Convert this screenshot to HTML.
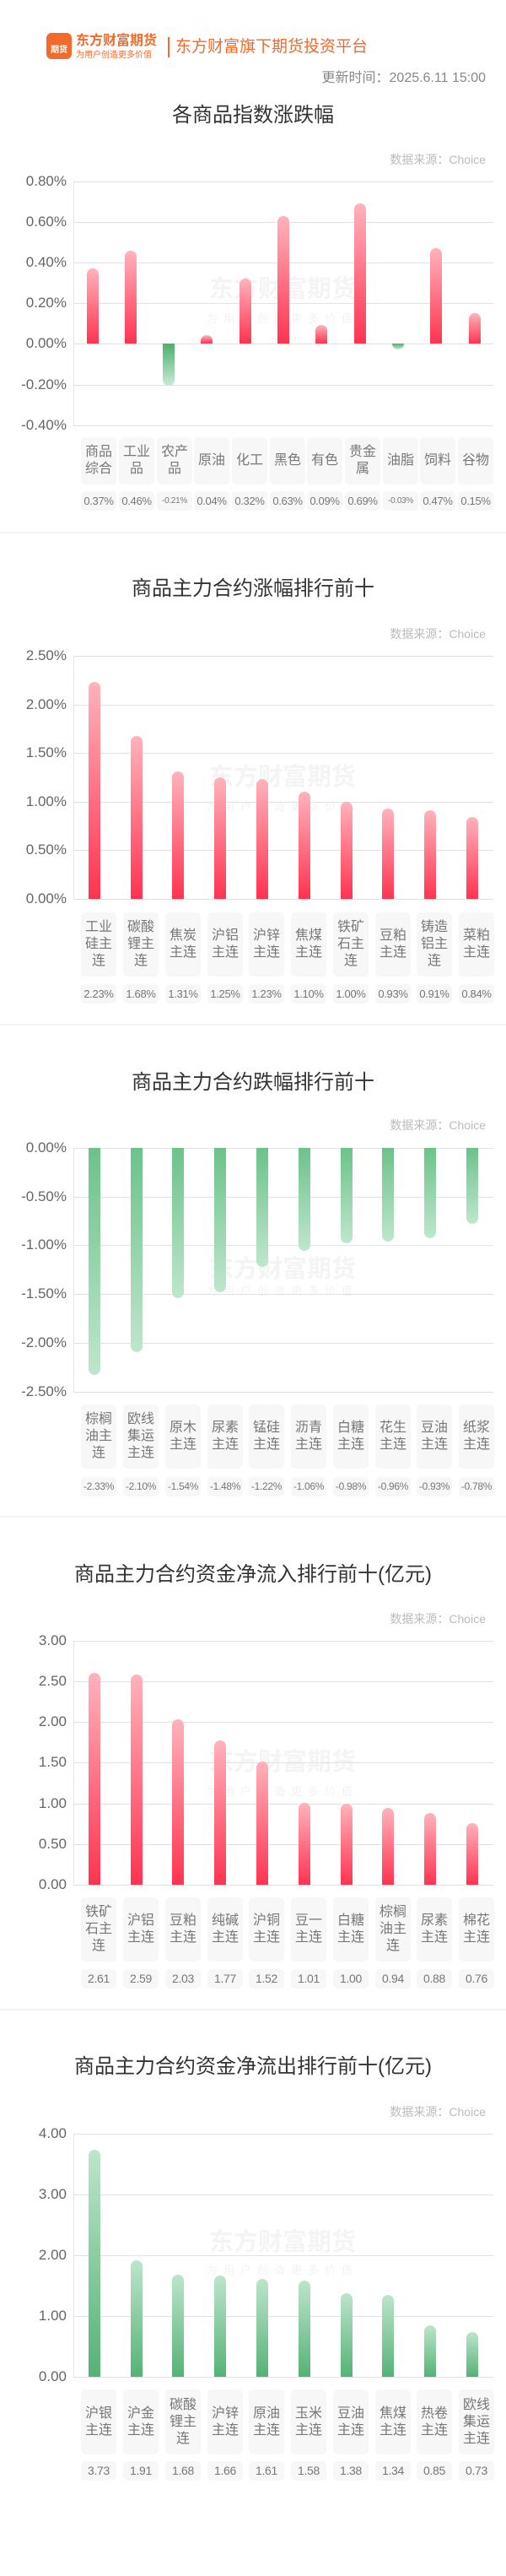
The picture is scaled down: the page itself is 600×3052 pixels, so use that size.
<!DOCTYPE html>
<html><head><meta charset="utf-8">
<style>
*{margin:0;padding:0;box-sizing:border-box}
body{width:600px;height:3052px;background:#fff;position:relative;overflow:hidden;font-family:"Liberation Sans","Noto Sans CJK SC",sans-serif}
.a{position:absolute}
.t{position:absolute;left:0;width:600px;text-align:center;font-size:24px;color:#333;line-height:30px}
.src{position:absolute;right:24px;font-size:14px;color:#bbb;line-height:18px}
.g{position:absolute;left:87px;width:498px;height:1px;background:#e2e2e2}
.vl{position:absolute;left:87px;width:1px;background:#e6e6e6}
.yl{position:absolute;right:521px;font-size:17px;color:#666;line-height:20px;text-align:right;white-space:nowrap}
.lb{position:absolute;width:42px;background:#f7f7f7;border-radius:5px;display:flex;align-items:center;justify-content:center;text-align:center;font-size:16px;line-height:20px;color:#777;padding:0 4px;word-break:break-all}
.vb{position:absolute;width:42px;height:23px;background:#f7f7f7;border-radius:5px;text-align:center;font-size:13px;line-height:23px;color:#777;white-space:nowrap;letter-spacing:-0.3px}
.r{position:absolute;width:14px;border-radius:7px 7px 0 0;background:linear-gradient(to bottom,#ffb3bc,#ff3350)}
.n{position:absolute;width:14px;border-radius:0 0 7px 7px;background:linear-gradient(to bottom,#4caf6e,#c8ebd4)}
.n3{position:absolute;width:14px;border-radius:0 0 7px 7px;background:linear-gradient(to bottom,#6cc28a,#bfe6cc)}
.p5{position:absolute;width:14px;border-radius:7px 7px 0 0;background:linear-gradient(to bottom,#bde5cb,#55b276)}
.dv{position:absolute;left:0;width:600px;height:2px;background:#f3f3f3}
.wm{position:absolute;left:245px;width:180px;text-align:center;font-size:29px;font-weight:bold;color:#f4f4f4;line-height:32px;white-space:nowrap}
.ws{position:absolute;left:245px;width:180px;text-align:center;font-size:13px;color:#f2f2f2;letter-spacing:7px;line-height:16px;white-space:nowrap}
</style></head><body>

<!-- header -->
<div class="a" style="left:55px;top:39px;width:30px;height:31px;background:#f26a2c;border-radius:6px;color:#fff;font-size:10px;font-weight:bold;text-align:center;line-height:12px;padding-top:15px">期货</div>
<div class="a" style="left:90px;top:40px;font-size:16px;font-weight:bold;color:#f26a2c;line-height:18px;white-space:nowrap">东方财富期货</div>
<div class="a" style="left:90px;top:60px;font-size:10px;color:#f26a2c;line-height:11px;white-space:nowrap">为用户创造更多价值</div>
<div class="a" style="left:199px;top:44px;width:2px;height:24px;background:#f26a2c"></div>
<div class="a" style="left:208px;top:45px;font-size:19px;color:#f26a2c;line-height:22px;white-space:nowrap">东方财富旗下期货投资平台</div>
<div class="a" style="right:24px;top:83px;font-size:16px;color:#888;line-height:20px;white-space:nowrap">更新时间：2025.6.11 15:00</div>

<!-- chart 1 -->
<div class="t" style="top:122px">各商品指数涨跌幅</div>
<div class="src" style="top:180px">数据来源：Choice</div>
<div class="wm" style="top:327px">东方财富期货</div><div class="ws" style="top:370px">为用户创造更多价值</div>
<div class="vl" style="top:215px;height:290px"></div>
<div class="g" style="top:215px"></div><div class="g" style="top:263px"></div><div class="g" style="top:311px"></div><div class="g" style="top:359px"></div><div class="g" style="top:407px"></div><div class="g" style="top:456px"></div><div class="g" style="top:504px"></div>
<div class="yl" style="top:205px">0.80%</div><div class="yl" style="top:253px">0.60%</div><div class="yl" style="top:301px">0.40%</div><div class="yl" style="top:349px">0.20%</div><div class="yl" style="top:397px">0.00%</div><div class="yl" style="top:446px">-0.20%</div><div class="yl" style="top:494px">-0.40%</div>
<div class="r" style="left:103px;top:318px;height:89px"></div>
<div class="r" style="left:148px;top:297px;height:110px"></div>
<div class="n" style="left:193px;top:407px;height:50px"></div>
<div class="r" style="left:238px;top:397px;height:10px"></div>
<div class="r" style="left:284px;top:330px;height:77px"></div>
<div class="r" style="left:329px;top:256px;height:151px"></div>
<div class="r" style="left:374px;top:385px;height:22px"></div>
<div class="r" style="left:420px;top:241px;height:166px"></div>
<div class="n" style="left:465px;top:407px;height:7px"></div>
<div class="r" style="left:510px;top:294px;height:113px"></div>
<div class="r" style="left:556px;top:371px;height:36px"></div>
<div class="lb" style="left:96px;top:518px;height:56px">商品综合</div>
<div class="lb" style="left:141px;top:518px;height:56px">工业品</div>
<div class="lb" style="left:186px;top:518px;height:56px">农产品</div>
<div class="lb" style="left:230px;top:518px;height:56px">原油</div>
<div class="lb" style="left:275px;top:518px;height:56px">化工</div>
<div class="lb" style="left:320px;top:518px;height:56px">黑色</div>
<div class="lb" style="left:364px;top:518px;height:56px">有色</div>
<div class="lb" style="left:409px;top:518px;height:56px">贵金属</div>
<div class="lb" style="left:454px;top:518px;height:56px">油脂</div>
<div class="lb" style="left:498px;top:518px;height:56px">饲料</div>
<div class="lb" style="left:543px;top:518px;height:56px">谷物</div>
<div class="vb" style="left:96px;top:582px">0.37%</div>
<div class="vb" style="left:141px;top:582px">0.46%</div>
<div class="vb" style="left:186px;top:582px;font-size:10px">-0.21%</div>
<div class="vb" style="left:230px;top:582px">0.04%</div>
<div class="vb" style="left:275px;top:582px">0.32%</div>
<div class="vb" style="left:320px;top:582px">0.63%</div>
<div class="vb" style="left:364px;top:582px">0.09%</div>
<div class="vb" style="left:409px;top:582px">0.69%</div>
<div class="vb" style="left:454px;top:582px;font-size:10px">-0.03%</div>
<div class="vb" style="left:498px;top:582px">0.47%</div>
<div class="vb" style="left:543px;top:582px">0.15%</div>
<div class="dv" style="top:630px"></div>

<!-- chart 2 -->
<div class="t" style="top:683px">商品主力合约涨幅排行前十</div>
<div class="src" style="top:742px">数据来源：Choice</div>
<div class="wm" style="top:905px">东方财富期货</div><div class="ws" style="top:948px">为用户创造更多价值</div>
<div class="vl" style="top:777px;height:288px"></div>
<div class="g" style="top:777px"></div><div class="g" style="top:835px"></div><div class="g" style="top:892px"></div><div class="g" style="top:950px"></div><div class="g" style="top:1007px"></div><div class="g" style="top:1065px"></div>
<div class="yl" style="top:767px">2.50%</div><div class="yl" style="top:825px">2.00%</div><div class="yl" style="top:882px">1.50%</div><div class="yl" style="top:940px">1.00%</div><div class="yl" style="top:997px">0.50%</div><div class="yl" style="top:1055px">0.00%</div>
<div class="r" style="left:105px;top:808px;height:257px"></div>
<div class="r" style="left:155px;top:872px;height:193px"></div>
<div class="r" style="left:204px;top:914px;height:151px"></div>
<div class="r" style="left:254px;top:921px;height:144px"></div>
<div class="r" style="left:304px;top:923px;height:142px"></div>
<div class="r" style="left:354px;top:938px;height:127px"></div>
<div class="r" style="left:404px;top:950px;height:115px"></div>
<div class="r" style="left:453px;top:958px;height:107px"></div>
<div class="r" style="left:503px;top:960px;height:105px"></div>
<div class="r" style="left:553px;top:968px;height:97px"></div>
<div class="lb" style="left:96px;top:1081px;height:76px">工业硅主连</div>
<div class="lb" style="left:146px;top:1081px;height:76px">碳酸锂主连</div>
<div class="lb" style="left:196px;top:1081px;height:76px">焦炭主连</div>
<div class="lb" style="left:246px;top:1081px;height:76px">沪铝主连</div>
<div class="lb" style="left:295px;top:1081px;height:76px">沪锌主连</div>
<div class="lb" style="left:345px;top:1081px;height:76px">焦煤主连</div>
<div class="lb" style="left:395px;top:1081px;height:76px">铁矿石主连</div>
<div class="lb" style="left:445px;top:1081px;height:76px">豆粕主连</div>
<div class="lb" style="left:494px;top:1081px;height:76px">铸造铝主连</div>
<div class="lb" style="left:544px;top:1081px;height:76px">菜粕主连</div>
<div class="vb" style="left:96px;top:1166px">2.23%</div>
<div class="vb" style="left:146px;top:1166px">1.68%</div>
<div class="vb" style="left:196px;top:1166px">1.31%</div>
<div class="vb" style="left:246px;top:1166px">1.25%</div>
<div class="vb" style="left:295px;top:1166px">1.23%</div>
<div class="vb" style="left:345px;top:1166px">1.10%</div>
<div class="vb" style="left:395px;top:1166px">1.00%</div>
<div class="vb" style="left:445px;top:1166px">0.93%</div>
<div class="vb" style="left:494px;top:1166px">0.91%</div>
<div class="vb" style="left:544px;top:1166px">0.84%</div>
<div class="dv" style="top:1213px"></div>

<!-- chart 3 -->
<div class="t" style="top:1268px">商品主力合约跌幅排行前十</div>
<div class="src" style="top:1324px">数据来源：Choice</div>
<div class="wm" style="top:1488px">东方财富期货</div><div class="ws" style="top:1522px">为用户创造更多价值</div>
<div class="vl" style="top:1360px;height:289px"></div>
<div class="g" style="top:1360px"></div><div class="g" style="top:1418px"></div><div class="g" style="top:1475px"></div><div class="g" style="top:1533px"></div><div class="g" style="top:1591px"></div><div class="g" style="top:1649px"></div>
<div class="yl" style="top:1350px">0.00%</div><div class="yl" style="top:1408px">-0.50%</div><div class="yl" style="top:1465px">-1.00%</div><div class="yl" style="top:1523px">-1.50%</div><div class="yl" style="top:1581px">-2.00%</div><div class="yl" style="top:1639px">-2.50%</div>
<div class="n3" style="left:105px;top:1360px;height:269px"></div>
<div class="n3" style="left:155px;top:1360px;height:242px"></div>
<div class="n3" style="left:204px;top:1360px;height:178px"></div>
<div class="n3" style="left:254px;top:1360px;height:171px"></div>
<div class="n3" style="left:304px;top:1360px;height:141px"></div>
<div class="n3" style="left:354px;top:1360px;height:122px"></div>
<div class="n3" style="left:404px;top:1360px;height:113px"></div>
<div class="n3" style="left:453px;top:1360px;height:111px"></div>
<div class="n3" style="left:503px;top:1360px;height:107px"></div>
<div class="n3" style="left:553px;top:1360px;height:90px"></div>
<div class="lb" style="left:96px;top:1664px;height:76px">棕榈油主连</div>
<div class="lb" style="left:146px;top:1664px;height:76px">欧线集运主连</div>
<div class="lb" style="left:196px;top:1664px;height:76px">原木主连</div>
<div class="lb" style="left:246px;top:1664px;height:76px">尿素主连</div>
<div class="lb" style="left:295px;top:1664px;height:76px">锰硅主连</div>
<div class="lb" style="left:345px;top:1664px;height:76px">沥青主连</div>
<div class="lb" style="left:395px;top:1664px;height:76px">白糖主连</div>
<div class="lb" style="left:445px;top:1664px;height:76px">花生主连</div>
<div class="lb" style="left:494px;top:1664px;height:76px">豆油主连</div>
<div class="lb" style="left:544px;top:1664px;height:76px">纸浆主连</div>
<div class="vb" style="left:96px;top:1750px;font-size:12px">-2.33%</div>
<div class="vb" style="left:146px;top:1750px;font-size:12px">-2.10%</div>
<div class="vb" style="left:196px;top:1750px;font-size:12px">-1.54%</div>
<div class="vb" style="left:246px;top:1750px;font-size:12px">-1.48%</div>
<div class="vb" style="left:295px;top:1750px;font-size:12px">-1.22%</div>
<div class="vb" style="left:345px;top:1750px;font-size:12px">-1.06%</div>
<div class="vb" style="left:395px;top:1750px;font-size:12px">-0.98%</div>
<div class="vb" style="left:445px;top:1750px;font-size:12px">-0.96%</div>
<div class="vb" style="left:494px;top:1750px;font-size:12px">-0.93%</div>
<div class="vb" style="left:544px;top:1750px;font-size:12px">-0.78%</div>
<div class="dv" style="top:1796px"></div>

<!-- chart 4 -->
<div class="t" style="top:1851px">商品主力合约资金净流入排行前十(亿元)</div>
<div class="src" style="top:1909px">数据来源：Choice</div>
<div class="wm" style="top:2072px">东方财富期货</div><div class="ws" style="top:2115px">为用户创造更多价值</div>
<div class="vl" style="top:1944px;height:289px"></div>
<div class="g" style="top:1944px"></div><div class="g" style="top:1992px"></div><div class="g" style="top:2040px"></div><div class="g" style="top:2088px"></div><div class="g" style="top:2137px"></div><div class="g" style="top:2185px"></div><div class="g" style="top:2233px"></div>
<div class="yl" style="top:1934px">3.00</div><div class="yl" style="top:1982px">2.50</div><div class="yl" style="top:2030px">2.00</div><div class="yl" style="top:2078px">1.50</div><div class="yl" style="top:2127px">1.00</div><div class="yl" style="top:2175px">0.50</div><div class="yl" style="top:2223px">0.00</div>
<div class="r" style="left:105px;top:1982px;height:251px"></div>
<div class="r" style="left:155px;top:1984px;height:249px"></div>
<div class="r" style="left:204px;top:2037px;height:196px"></div>
<div class="r" style="left:254px;top:2062px;height:171px"></div>
<div class="r" style="left:304px;top:2087px;height:146px"></div>
<div class="r" style="left:354px;top:2136px;height:97px"></div>
<div class="r" style="left:404px;top:2137px;height:96px"></div>
<div class="r" style="left:453px;top:2142px;height:91px"></div>
<div class="r" style="left:503px;top:2148px;height:85px"></div>
<div class="r" style="left:553px;top:2160px;height:73px"></div>
<div class="lb" style="left:96px;top:2248px;height:76px">铁矿石主连</div>
<div class="lb" style="left:146px;top:2248px;height:76px">沪铝主连</div>
<div class="lb" style="left:196px;top:2248px;height:76px">豆粕主连</div>
<div class="lb" style="left:246px;top:2248px;height:76px">纯碱主连</div>
<div class="lb" style="left:295px;top:2248px;height:76px">沪铜主连</div>
<div class="lb" style="left:345px;top:2248px;height:76px">豆一主连</div>
<div class="lb" style="left:395px;top:2248px;height:76px">白糖主连</div>
<div class="lb" style="left:445px;top:2248px;height:76px">棕榈油主连</div>
<div class="lb" style="left:494px;top:2248px;height:76px">尿素主连</div>
<div class="lb" style="left:544px;top:2248px;height:76px">棉花主连</div>
<div class="vb" style="left:96px;top:2333px;font-size:14px">2.61</div>
<div class="vb" style="left:146px;top:2333px;font-size:14px">2.59</div>
<div class="vb" style="left:196px;top:2333px;font-size:14px">2.03</div>
<div class="vb" style="left:246px;top:2333px;font-size:14px">1.77</div>
<div class="vb" style="left:295px;top:2333px;font-size:14px">1.52</div>
<div class="vb" style="left:345px;top:2333px;font-size:14px">1.01</div>
<div class="vb" style="left:395px;top:2333px;font-size:14px">1.00</div>
<div class="vb" style="left:445px;top:2333px;font-size:14px">0.94</div>
<div class="vb" style="left:494px;top:2333px;font-size:14px">0.88</div>
<div class="vb" style="left:544px;top:2333px;font-size:14px">0.76</div>
<div class="dv" style="top:2380px"></div>

<!-- chart 5 -->
<div class="t" style="top:2434px">商品主力合约资金净流出排行前十(亿元)</div>
<div class="src" style="top:2493px">数据来源：Choice</div>
<div class="wm" style="top:2641px">东方财富期货</div><div class="ws" style="top:2682px">为用户创造更多价值</div>
<div class="vl" style="top:2528px;height:288px"></div>
<div class="g" style="top:2528px"></div><div class="g" style="top:2600px"></div><div class="g" style="top:2672px"></div><div class="g" style="top:2744px"></div><div class="g" style="top:2816px"></div>
<div class="yl" style="top:2518px">4.00</div><div class="yl" style="top:2590px">3.00</div><div class="yl" style="top:2662px">2.00</div><div class="yl" style="top:2734px">1.00</div><div class="yl" style="top:2806px">0.00</div>
<div class="p5" style="left:105px;top:2547px;height:269px"></div>
<div class="p5" style="left:155px;top:2678px;height:138px"></div>
<div class="p5" style="left:204px;top:2695px;height:121px"></div>
<div class="p5" style="left:254px;top:2696px;height:120px"></div>
<div class="p5" style="left:304px;top:2700px;height:116px"></div>
<div class="p5" style="left:354px;top:2702px;height:114px"></div>
<div class="p5" style="left:404px;top:2717px;height:99px"></div>
<div class="p5" style="left:453px;top:2719px;height:97px"></div>
<div class="p5" style="left:503px;top:2755px;height:61px"></div>
<div class="p5" style="left:553px;top:2763px;height:53px"></div>
<div class="lb" style="left:96px;top:2831px;height:77px">沪银主连</div>
<div class="lb" style="left:146px;top:2831px;height:77px">沪金主连</div>
<div class="lb" style="left:196px;top:2831px;height:77px">碳酸锂主连</div>
<div class="lb" style="left:246px;top:2831px;height:77px">沪锌主连</div>
<div class="lb" style="left:295px;top:2831px;height:77px">原油主连</div>
<div class="lb" style="left:345px;top:2831px;height:77px">玉米主连</div>
<div class="lb" style="left:395px;top:2831px;height:77px">豆油主连</div>
<div class="lb" style="left:445px;top:2831px;height:77px">焦煤主连</div>
<div class="lb" style="left:494px;top:2831px;height:77px">热卷主连</div>
<div class="lb" style="left:544px;top:2831px;height:77px">欧线集运主连</div>
<div class="vb" style="left:96px;top:2916px;font-size:14px">3.73</div>
<div class="vb" style="left:146px;top:2916px;font-size:14px">1.91</div>
<div class="vb" style="left:196px;top:2916px;font-size:14px">1.68</div>
<div class="vb" style="left:246px;top:2916px;font-size:14px">1.66</div>
<div class="vb" style="left:295px;top:2916px;font-size:14px">1.61</div>
<div class="vb" style="left:345px;top:2916px;font-size:14px">1.58</div>
<div class="vb" style="left:395px;top:2916px;font-size:14px">1.38</div>
<div class="vb" style="left:445px;top:2916px;font-size:14px">1.34</div>
<div class="vb" style="left:494px;top:2916px;font-size:14px">0.85</div>
<div class="vb" style="left:544px;top:2916px;font-size:14px">0.73</div>
</body></html>
